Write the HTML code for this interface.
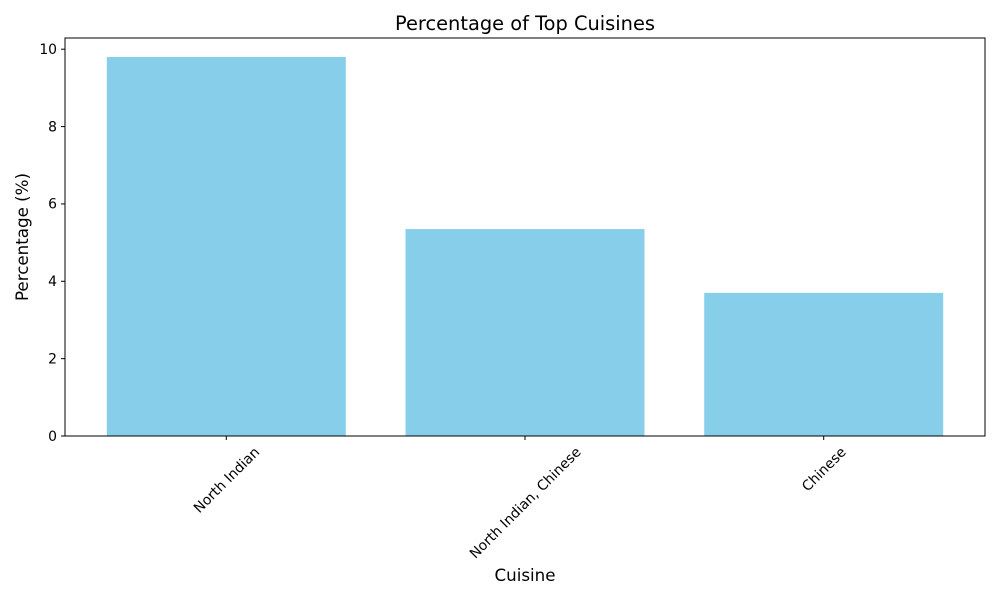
<!DOCTYPE html>
<html><head><meta charset="utf-8"><style>
body{margin:0;background:#fff}
svg{font-family:"DejaVu Sans","Liberation Sans",sans-serif}
</style></head><body>
<svg id="chart" width="1000" height="600">
<text x="525" y="30" text-anchor="middle" font-size="19.4">Percentage of Top Cuisines</text>
<text x="525" y="581" text-anchor="middle" font-size="16.7">Cuisine</text>
<text transform="translate(28,237) rotate(-90)" text-anchor="middle" font-size="16.7">Percentage (%)</text>
<g id="bars"></g><g id="yticks"></g><g id="xticks"></g>
<rect x="65" y="38" width="920" height="398" fill="none" stroke="#000" stroke-width="1"/>
</svg>
<script>
const categories = ["North Indian", "North Indian, Chinese", "Chinese"];
const values = [9.8, 5.35, 3.7];
const yTicks = [0, 2, 4, 6, 8, 10];
const L=65,R=985,T=38,B=436,ymax=10.29,xmin=-0.54,xmax=2.54;
const ns="http://www.w3.org/2000/svg";
const ys=v=>B-(v/ymax)*(B-T);
const xs=i=>L+(i-xmin)/(xmax-xmin)*(R-L);
const bw=0.8*(R-L)/(xmax-xmin);
function mk(t,a,p){const e=document.createElementNS(ns,t);for(const k in a)e.setAttribute(k,a[k]);p.appendChild(e);return e;}
const gb=document.getElementById('bars'),gy=document.getElementById('yticks'),gx=document.getElementById('xticks');
values.forEach((v,i)=>{
 const r=mk('rect',{x:xs(i)-bw/2,y:ys(v),width:bw,height:B-ys(v),fill:'#87ceeb'},gb);
 
 
});
yTicks.forEach(t=>{
 const y=ys(t);
 mk('line',{x1:L-4,x2:L,y1:y,y2:y,stroke:'#000'},gy);
 const tx=mk('text',{x:L-8,y:y+4.8,'text-anchor':'end','font-size':13.9},gy);
 tx.textContent=t;
 
 
});
categories.forEach((c,i)=>{
 const x=xs(i);
 mk('line',{x1:x,x2:x,y1:B,y2:B+4,stroke:'#000'},gx);
 const tx=mk('text',{'text-anchor':'middle','font-size':13.9},gx);
 tx.textContent=c;
 
 
 const len=tx.getComputedTextLength();
 const h=(len+15)*0.7071;
 const cy=B+8+h/2;
 tx.setAttribute('transform',`translate(${x},${cy}) rotate(-45) translate(0,5)`);
});
</script>
</body></html>
